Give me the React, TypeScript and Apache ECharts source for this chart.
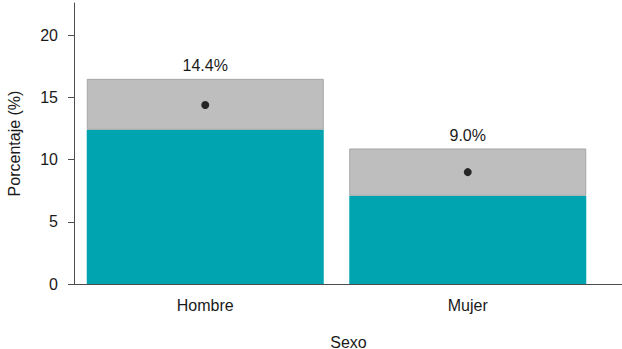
import React, { useEffect, useRef } from "react";
import * as echarts from "echarts";

const categories = ["Hombre", "Mujer"];
const estimate = [14.4, 9.0];
const lowerCI = [12.4, 7.1];
const upperCI = [16.5, 10.9];
const yTicks = [0, 5, 10, 15, 20];

export default function App() {
  const ref = useRef<HTMLDivElement>(null);
  useEffect(() => {
    if (!ref.current) return;
    const chart = echarts.init(ref.current, undefined, { renderer: "svg" });
    const font = "Liberation Sans, Arial, sans-serif";
    chart.setOption({
      animation: false,
      grid: { left: 74, right: 23, top: 3, bottom: 65, outerBoundsMode: "none", containLabel: false },
      xAxis: {
        type: "category",
        data: categories,
        name: "Sexo",
        nameLocation: "middle",
        nameGap: 50,
        nameTextStyle: { fontFamily: font, fontSize: 16, color: "#1a1a1a", padding: [0, 0, 0, 24] },
        axisLine: { show: true, lineStyle: { color: "#4d4d4d", width: 1 } },
        axisTick: { show: false },
        axisLabel: { margin: 13, fontFamily: font, fontSize: 16, color: "#1a1a1a" },
      },
      yAxis: {
        type: "value",
        min: 0,
        max: 22.6,
        interval: 5,
        name: "Porcentaje (%)",
        nameLocation: "middle",
        nameGap: 52,
        nameRotate: 90,
        nameTextStyle: { fontFamily: font, fontSize: 16, color: "#1a1a1a" },
        splitLine: { show: false },
        axisLine: { show: true, lineStyle: { color: "#4d4d4d", width: 1 } },
        axisTick: { show: true, length: 6, customValues: yTicks, lineStyle: { color: "#4d4d4d" } },
        axisLabel: { customValues: yTicks, margin: 16, fontFamily: font, fontSize: 16, color: "#1a1a1a" },
      },
      graphic: [
        {
          type: "line",
          shape: { x1: 598, y1: 284.5, x2: 622, y2: 284.5 },
          style: { stroke: "#4d4d4d", lineWidth: 1 },
        },
      ],
      series: [
        {
          type: "bar",
          stack: "ci",
          barWidth: 237,
          data: lowerCI,
          itemStyle: { color: "#00A3B0" },
        },
        {
          type: "bar",
          stack: "ci",
          barWidth: 237,
          data: upperCI.map((u, i) => +(u - lowerCI[i]).toFixed(2)),
          itemStyle: { color: "#BEBEBE", borderColor: "#A6A6A6", borderWidth: 1 },
          label: {
            show: true,
            position: "top",
            distance: 5,
            fontFamily: font,
            fontSize: 16,
            color: "#1a1a1a",
            formatter: (p: any) => estimate[p.dataIndex].toFixed(1) + "%",
          },
        },
        {
          type: "scatter",
          data: estimate,
          symbolSize: 8,
          itemStyle: { color: "#000000" },
          z: 5,
        },
      ],
    });
    return () => chart.dispose();
  }, []);
  return <div ref={ref} style={{ width: 622, height: 349, position: "absolute", left: 0, top: 0 }} />;
}
